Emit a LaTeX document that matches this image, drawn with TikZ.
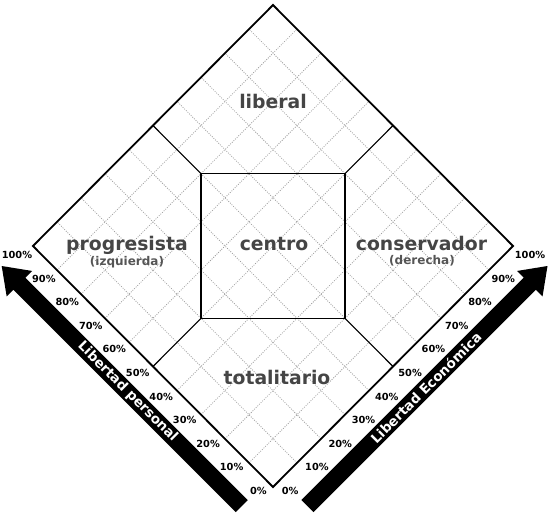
\documentclass[tikz,border=0pt]{standalone}
\usepackage{fontspec}
\setmainfont{DejaVu Sans}
\definecolor{regiongray}{HTML}{454545}
\definecolor{subgray}{HTML}{555555}
\begin{document}
\begin{tikzpicture}[x=1pt,y=-1pt,
  region/.style={text=regiongray, font=\fontsize{18.8}{20}\selectfont\bfseries, anchor=base, inner sep=0pt},
  sublabel/.style={text=subgray, font=\fontsize{12}{14}\selectfont\bfseries, anchor=base, inner sep=0pt},
  pct/.style={font=\fontsize{9.8}{11}\selectfont\bfseries, inner sep=0pt},
  gridline/.style={gray!75, line width=0.8pt, dash pattern=on 0.9pt off 1.4pt},
  outline/.style={black, line width=1.8pt, line join=miter},
  inner/.style={black, line width=1.1pt},
  arrowtext/.style={text=white, font=\fontsize{13.5}{15}\selectfont\bfseries, inner sep=0pt}]
\useasboundingbox (0,0) rectangle (550,520);
% diamond in (personal, economic) coordinates
\begin{scope}[shift={(273,487)}, x={(-240pt,241pt)}, y={(240pt,241pt)}]
  \coordinate (B) at (0,0);
  \coordinate (L) at (1,0);
  \coordinate (T) at (1,1);
  \coordinate (R) at (0,1);
  \foreach \k in {1,...,9} {
    \draw[gridline] (0.1*\k,0) -- (0.1*\k,1);
    \draw[gridline] (0,0.1*\k) -- (1,0.1*\k);
  }
  \coordinate (sTL) at (0.8,0.5);
  \coordinate (sTR) at (0.5,0.8);
  \coordinate (sBR) at (0.2,0.5);
  \coordinate (sBL) at (0.5,0.2);
  \coordinate (eTL) at (1,0.5);
  \coordinate (eTR) at (0.5,1);
  \coordinate (eBR) at (0,0.5);
  \coordinate (eBL) at (0.5,0);
  \draw[inner] (sTL) -- (sTR) -- (sBR) -- (sBL) -- cycle;
  \draw[inner] (sTL) -- (eTL);
  \draw[inner] (sTR) -- (eTR);
  \draw[inner] (sBR) -- (eBR);
  \draw[inner] (sBL) -- (eBL);
  \draw[outline] (B) -- (L) -- (T) -- (R) -- cycle;
\end{scope}
% region labels
\node[region] (liberal) at (273,108) {liberal};
\node[region] (progresista) at (127,250.5) {progresista};
\node[sublabel] (izquierda) at (127,265) {(izquierda)};
\node[region] (centro) at (274,250) {centro};
\node[region] (conservador) at (421.5,250) {conservador};
\node[sublabel] (derecha) at (422,264) {(derecha)};
\node[region] (totalitario) at (277,384) {totalitario};
% percentage labels
\foreach \k in {0,...,10} {
  \pgfmathtruncatemacro{\p}{10*\k}
  \node[pct, anchor=east] (pl\k) at ({267-23.47*\k},{491-23.6*\k}) {\p\%};
  \node[pct, anchor=west] (pr\k) at ({281.7+23.3*\k},{491-23.6*\k}) {\p\%};
}
% left arrow: Libertad personal
\begin{scope}[shift={(1.7,266)}, x={(0.7071pt,-0.7071pt)}, y={(0.7071pt,0.7071pt)}]
  \fill[black] (0,0) -- (25,18) -- (25,8.5) -- (339.5,8.5) -- (339.5,-8.5) -- (25,-8.5) -- (25,-18) -- cycle;
  \node[arrowtext, rotate=-45] (personal) at (178,0) {Libertad personal};
\end{scope}
% right arrow: Libertad Económica
\begin{scope}[shift={(547.5,266)}, x={(-0.7071pt,-0.7071pt)}, y={(0.7071pt,-0.7071pt)}]
  \fill[black] (0,0) -- (25,18) -- (25,8.5) -- (339.5,8.5) -- (339.5,-8.5) -- (25,-8.5) -- (25,-18) -- cycle;
  \node[arrowtext, rotate=45] (economica) at (172,0) {Libertad Económica};
\end{scope}
\end{tikzpicture}
\end{document}
